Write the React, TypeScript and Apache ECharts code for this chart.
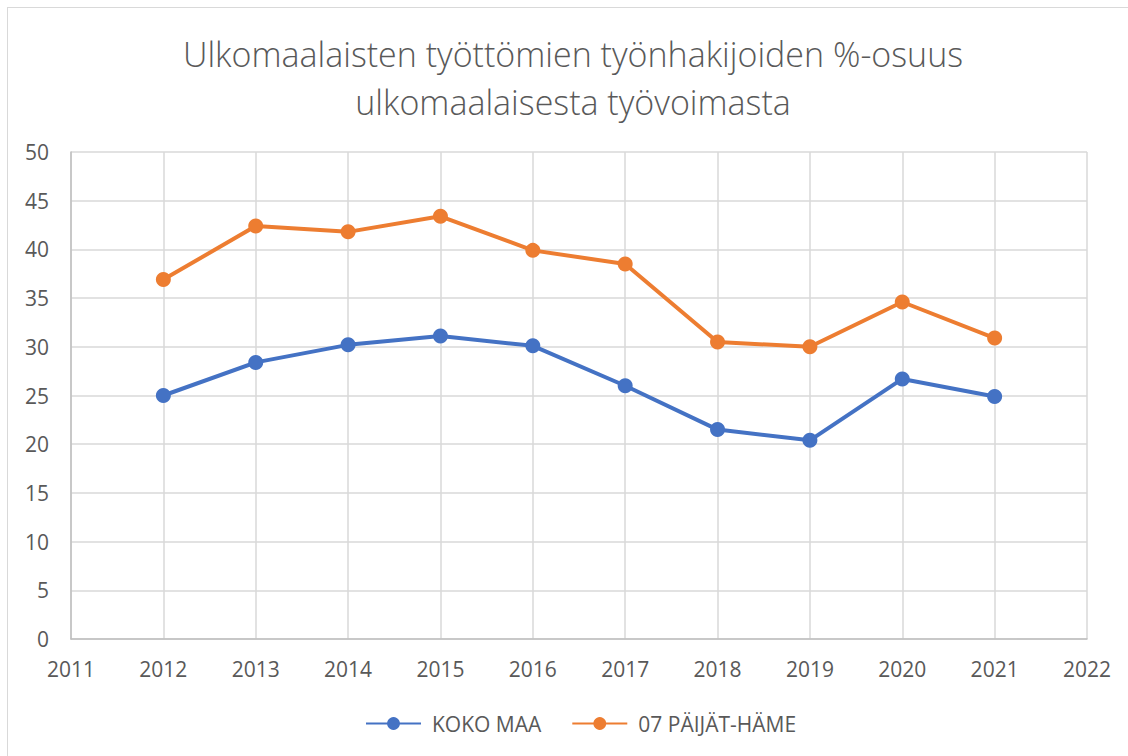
import React, { useEffect, useRef } from "react";
import * as echarts from "echarts";

const years = [2012, 2013, 2014, 2015, 2016, 2017, 2018, 2019, 2020, 2021];
const kokoMaa = [25.0, 28.4, 30.2, 31.1, 30.1, 26.0, 21.5, 20.4, 26.7, 24.9];
const paijatHame = [36.9, 42.4, 41.8, 43.4, 39.9, 38.5, 30.5, 30.0, 34.6, 30.9];
const seriesNames = ["KOKO MAA", "07 PÄIJÄT-HÄME"];
const titleLines = ["Ulkomaalaisten työttömien työnhakijoiden %-osuus", "ulkomaalaisesta työvoimasta"];

const FONT = "'Open Sans', 'Noto Sans', sans-serif";
const TXT = "#595959";

export default function App() {
  const ref = useRef<HTMLDivElement>(null);
  useEffect(() => {
    document.body.style.margin = "0";
    const chart = echarts.init(ref.current!, null, { renderer: "svg" });
    chart.setOption({
      animation: false,
      backgroundColor: "#ffffff",
      textStyle: { fontFamily: FONT, color: TXT },
      graphic: [
        {
          type: "text",
          x: 573,
          y: 54,
          style: { text: titleLines[0], fill: TXT, font: `300 34px ${FONT}`, textAlign: "center", textVerticalAlign: "middle" },
        },
        {
          type: "text",
          x: 573,
          y: 102,
          style: { text: titleLines[1], fill: TXT, font: `300 34px ${FONT}`, textAlign: "center", textVerticalAlign: "middle" },
        },
      ],
      grid: { left: 71, right: 41, top: 152, bottom: 117, containLabel: false },
      legend: {
        top: 708,
        left: 360,
        itemWidth: 55,
        itemHeight: 16,
        itemGap: 30,
        textStyle: { fontFamily: FONT, fontSize: 21, color: TXT, padding: [0, 0, 0, 6] },
        data: seriesNames,
      },
      xAxis: {
        type: "value",
        min: 2011,
        max: 2022,
        interval: 1,
        axisLine: { show: true, onZero: false, lineStyle: { color: "#bfbfbf", width: 1.5 } },
        axisTick: { show: false },
        splitLine: { show: true, lineStyle: { color: "#d9d9d9", width: 1.5 } },
        axisLabel: { color: TXT, fontSize: 21, fontFamily: FONT, margin: 19, formatter: (v: number) => String(v) },
      },
      yAxis: {
        type: "value",
        min: 0,
        max: 50,
        interval: 5,
        axisLine: { show: true, lineStyle: { color: "#bfbfbf", width: 1.5 } },
        axisTick: { show: false },
        splitLine: { show: true, lineStyle: { color: "#d9d9d9", width: 1.5 } },
        axisLabel: { color: TXT, fontSize: 21, fontFamily: FONT, margin: 22 },
      },
      series: [
        {
          name: seriesNames[0],
          type: "line",
          data: years.map((y, i) => [y, kokoMaa[i]]),
          symbol: "circle",
          symbolSize: 15,
          lineStyle: { color: "#4472C4", width: 4 },
          itemStyle: { color: "#4472C4" },
        },
        {
          name: seriesNames[1],
          type: "line",
          data: years.map((y, i) => [y, paijatHame[i]]),
          symbol: "circle",
          symbolSize: 15,
          lineStyle: { color: "#ED7D31", width: 4 },
          itemStyle: { color: "#ED7D31" },
        },
      ],
    });
    return () => chart.dispose();
  }, []);
  return (
    <>
      <div
        style={{
          position: "fixed",
          left: 7,
          top: 7,
          width: 1121,
          height: 749,
          boxSizing: "border-box",
          borderLeft: "1.5px solid #d9d9d9",
          borderTop: "1.5px solid #d9d9d9",
          pointerEvents: "none",
          zIndex: 2,
        }}
      />
      <div ref={ref} style={{ position: "fixed", left: 0, top: 0, width: 1128, height: 756 }} />
    </>
  );
}
